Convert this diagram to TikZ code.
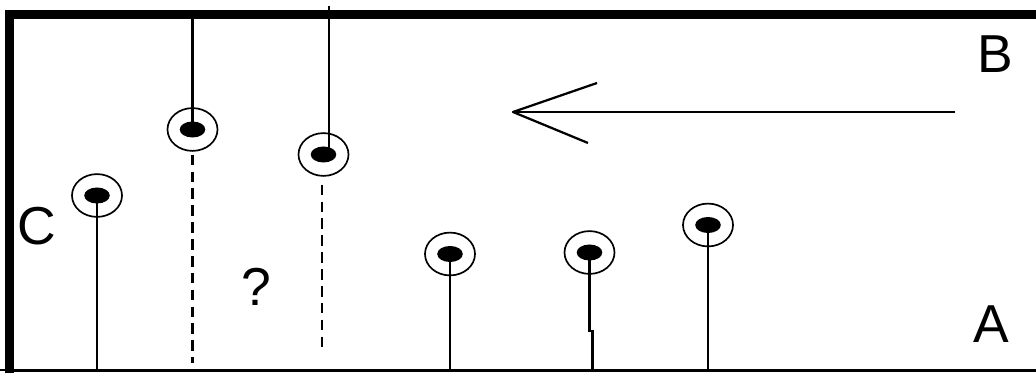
\documentclass[tikz,border=0pt]{standalone}
\usepackage{fontspec}
\setmainfont{Liberation Sans}
\usetikzlibrary{shapes.geometric}

\tikzset{
  bob/.style={ellipse, draw, line width=1.2pt, minimum width=1.25cm,
    minimum height=1.07cm, inner sep=0pt,
    path picture={\fill (path picture bounding box.center) ellipse (0.32cm and 0.2cm);}},
  rod/.style={line width=1.6pt},
  ghost/.style={line width=1.6pt, dash pattern=on 7.5pt off 4.5pt},
  lab/.style={font=\fontsize{38}{40}\selectfont, inner sep=0pt, anchor=base}
}

\begin{document}
\begin{tikzpicture}[x=0.025cm,y=-0.025cm]
  \useasboundingbox (0,0) rectangle (1036,373);
  % box
  \draw[line width=6.4pt] (1036,14.5) -- (9.5,14.5) -- (9.5,373);
  \draw[line width=2.1pt] (9.5,370.5) -- (1036,370.5);
  \coordinate (floor) at (0,370);

  % pendulums
  \node[bob] (p1) at (97,195.5) {};
  \node[bob] (p2) at (192.5,129.5) {};
  \node[bob] (p3) at (323.5,154.5) {};
  \node[bob] (p4) at (450,254) {};
  \node[bob] (p5) at (589.5,252.5) {};
  \node[bob] (p6) at (708,225) {};

  \draw[rod] (p1.center) -- (p1.center |- floor);
  \draw[rod] (p4.center) -- (p4.center |- floor);
  \draw[rod] (p6.center) -- (p6.center |- floor);
  \coordinate (k5) at (588,331);
  \draw[rod] (p5.center) -- (p5.center |- k5) -- ++(3,0) |- (floor);

  \coordinate (t2) at (192.5,14);
  \coordinate (t3) at (329,6);
  \draw[rod] (t2) -- (p2.center);
  \draw[rod] (t3) -- (t3 |- p3.center);

  \coordinate (d2) at (192.5,363);
  \coordinate (d3) at (322,353);
  \draw[ghost] (p2.south) ++(0,3) -- (d2);
  \draw[ghost] (d3 |- p3.south) ++(0,8) -- (d3);

  % arrow
  \coordinate (tail) at (955,112);
  \coordinate (tip) at (513,112);
  \coordinate (bu) at (597,83);
  \coordinate (bl) at (588,143);
  \draw[rod] (tail) -- (tip);
  \draw[rod, line join=round] (bu) -- (tip) -- (bl);

  % labels
  \node[lab] (lb) at (995,73) {B};
  \node[lab] (la) at (991.5,342) {A};
  \node[lab] (lc) at (36.5,244) {C};
  \node[lab] (lq) at (256.5,305) {?};
\end{tikzpicture}
\end{document}
